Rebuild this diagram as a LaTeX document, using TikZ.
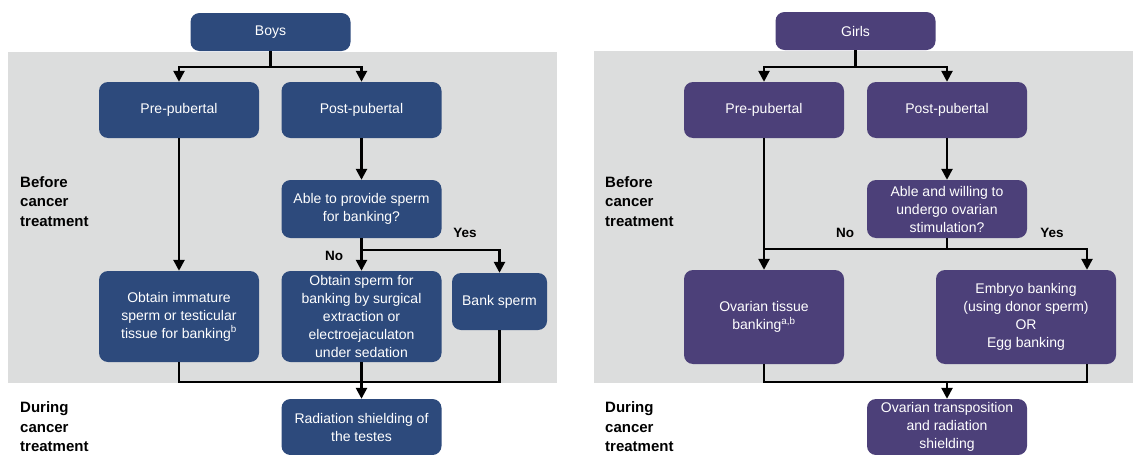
\documentclass[tikz,border=0pt]{standalone}
\usepackage{fontspec}
\setmainfont{Liberation Sans}
\usepackage{xcolor}
\definecolor{boyblue}{RGB}{45,74,124}
\definecolor{girlpurple}{RGB}{76,64,121}
\definecolor{phasegray}{RGB}{220,221,221}
\usepackage{tikz}
\usetikzlibrary{arrows.meta}
\newcommand{\boxfont}{\fontsize{14}{18}\selectfont}
\tikzset{
    common/.style={rounded corners=9pt, text=white, align=center, inner sep=2pt, font=\boxfont},
    boybox/.style={common, fill=boyblue},
    girlbox/.style={common, fill=girlpurple},
    wide/.style={minimum width=160pt},
    phase/.style={anchor=west, align=left, inner sep=0pt, font=\bfseries\fontsize{15}{19.5}\selectfont},
    answer/.style={font=\bfseries\fontsize{13.5}{16}\selectfont},
    flow/.style={line width=2.5pt},
}
\begin{document}
\begin{tikzpicture}[x=1pt, y=-1pt, >={Triangle[length=11pt,width=11pt]}]
    \useasboundingbox (0,0) rectangle (1133,455);
    % phase backgrounds
    \fill[phasegray] (8,52) rectangle (557,383);
    \fill[phasegray] (594,51) rectangle (1133,383);

    % boys
    \node[boybox, wide, minimum height=38pt] (boys) at (270.5,32) {Boys};
    \node[boybox, wide, minimum height=56pt] (pre) at (179,110) {Pre-pubertal};
    \node[boybox, wide, minimum height=56pt] (post) at (361.5,110) {Post-pubertal};
    \node[boybox, wide, minimum height=58pt] (able) at (361.5,209) {Able to provide sperm\\for banking?};
    \node[boybox, wide, minimum height=91pt] (immature) at (179,316.5) {Obtain immature\\sperm or testicular\\tissue for banking\textsuperscript{b}};
    \node[boybox, wide, minimum height=91pt] (obtain) at (361.5,316.5) {Obtain sperm for\\banking by surgical\\extraction or\\electroejaculaton\\under sedation};
    \node[boybox, minimum width=95pt, minimum height=57pt] (bank) at (499.5,301.5) {Bank sperm};
    \node[boybox, wide, minimum height=56pt] (shield) at (361.5,427) {Radiation shielding of\\the testes};

    \node[phase] (bbefore) at (20,201.5) {Before\\cancer\\treatment};
    \node[phase] (bduring) at (20,427) {During\\cancer\\treatment};
    \node[answer] (bno) at (334,256) {No};
    \node[answer] (byes) at (465,233) {Yes};

    \coordinate (bsplit) at (boys.south |- 0,67);
    \draw[flow] (boys) -- (bsplit);
    \draw[flow, ->] (bsplit) -| (pre);
    \draw[flow, ->] (bsplit) -| (post);
    \draw[flow, ->] (post) -- (able);
    \draw[flow, ->] (pre) -- (immature);
    \coordinate (bask) at (able.south |- 0,250);
    \draw[flow] (able) -- (bask);
    \draw[flow, ->] (bask) -- (obtain);
    \draw[flow, ->] (bask) -| (bank);
    \coordinate (bjoin) at (obtain.south |- 0,382);
    \draw[flow] (immature) |- (bjoin) -| (bank);
    \draw[flow, ->] (obtain) -- (shield);

    % girls
    \node[girlbox, wide, minimum height=38pt] (girls) at (855.5,31) {Girls};
    \node[girlbox, wide, minimum height=56pt] (gpre) at (764,110) {Pre-pubertal};
    \node[girlbox, wide, minimum height=56pt] (gpost) at (947,110) {Post-pubertal};
    \node[girlbox, wide, minimum height=58pt] (gable) at (947,209) {Able and willing to\\undergo ovarian\\stimulation?};
    \node[girlbox, wide, minimum height=94pt] (tissue) at (764,317) {Ovarian tissue\\banking\textsuperscript{a,b}};
    \node[girlbox, minimum width=180pt, minimum height=94pt] (embryo) at (1026,317) {Embryo banking\\(using donor sperm)\\OR\\Egg banking};
    \node[girlbox, wide, minimum height=56pt] (transpo) at (947,427) {Ovarian transposition\\and radiation\\shielding};

    \node[phase] (gbefore) at (605,201.5) {Before\\cancer\\treatment};
    \node[phase] (gduring) at (605,427) {During\\cancer\\treatment};
    \node[answer] (gno) at (845,233) {No};
    \node[answer] (gyes) at (1052,233) {Yes};

    \coordinate (gsplit) at (girls.south |- 0,67);
    \draw[flow] (girls) -- (gsplit);
    \draw[flow, ->] (gsplit) -| (gpre);
    \draw[flow, ->] (gsplit) -| (gpost);
    \draw[flow, ->] (gpost) -- (gable);
    \draw[flow, ->] (gpre) -- (tissue);
    \coordinate (gask) at (gable.south |- 0,249);
    \coordinate (gright) at (1087,249);
    \draw[flow] (gable) -- (gask);
    \draw[flow] (gask) -- (gask -| gpre);
    \draw[flow, ->] (gask) -- (gright) -- (gright |- embryo.north);
    \coordinate (gjoin) at (gable.south |- 0,382);
    \draw[flow] (tissue) |- (gjoin) -| (gright |- embryo.south);
    \draw[flow, ->] (gjoin) -- (transpo);
\end{tikzpicture}
\end{document}
